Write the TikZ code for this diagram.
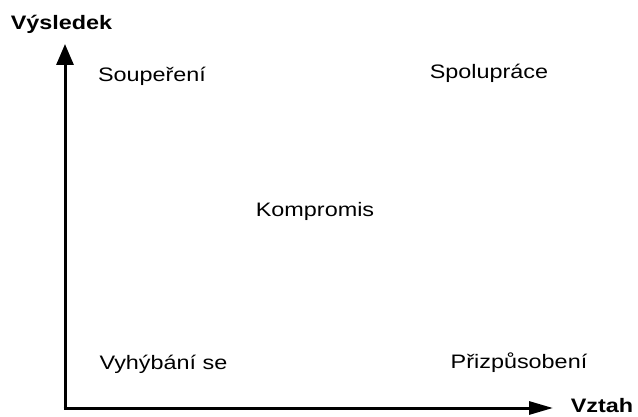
\documentclass[tikz,border=0pt]{standalone}
\usepackage{fontspec}
\setmainfont[FakeStretch=1.2]{Liberation Sans}
\usetikzlibrary{arrows.meta}
\begin{document}
\begin{tikzpicture}[x=1pt,y=-1pt,
  lbl/.style={anchor=base,inner sep=0pt,font=\fontsize{19.5}{21}\selectfont},
  axlbl/.style={lbl,font=\fontsize{19.5}{21}\selectfont\bfseries},
  axis/.style={line width=3pt}]
\useasboundingbox (0,0) rectangle (638,417);
\coordinate (o) at (65,408);
\coordinate (ytip) at (65,44);
\coordinate (xtip) at (553,408);
\draw[axis,-{Triangle[length=21pt,width=17pt]}] ([yshift=-1.5pt]o) -- (ytip);
\draw[axis,-{Triangle[length=24pt,width=13pt]}] ([xshift=-1.5pt]o) -- (xtip);
\node[axlbl] (ylab) at (61.5,30) {Výsledek};
\node[axlbl] (xlab) at (602,412.5) {Vztah};
\node[lbl] (soup) at (152,82) {Soupeření};
\node[lbl] (spol) at (489,79) {Spolupráce};
\node[lbl] (komp) at (315,217) {Kompromis};
\node[lbl] (vyh) at (163.5,369) {Vyhýbání se};
\node[lbl] (priz) at (519,368) {Přizpůsobení};
\end{tikzpicture}
\end{document}
